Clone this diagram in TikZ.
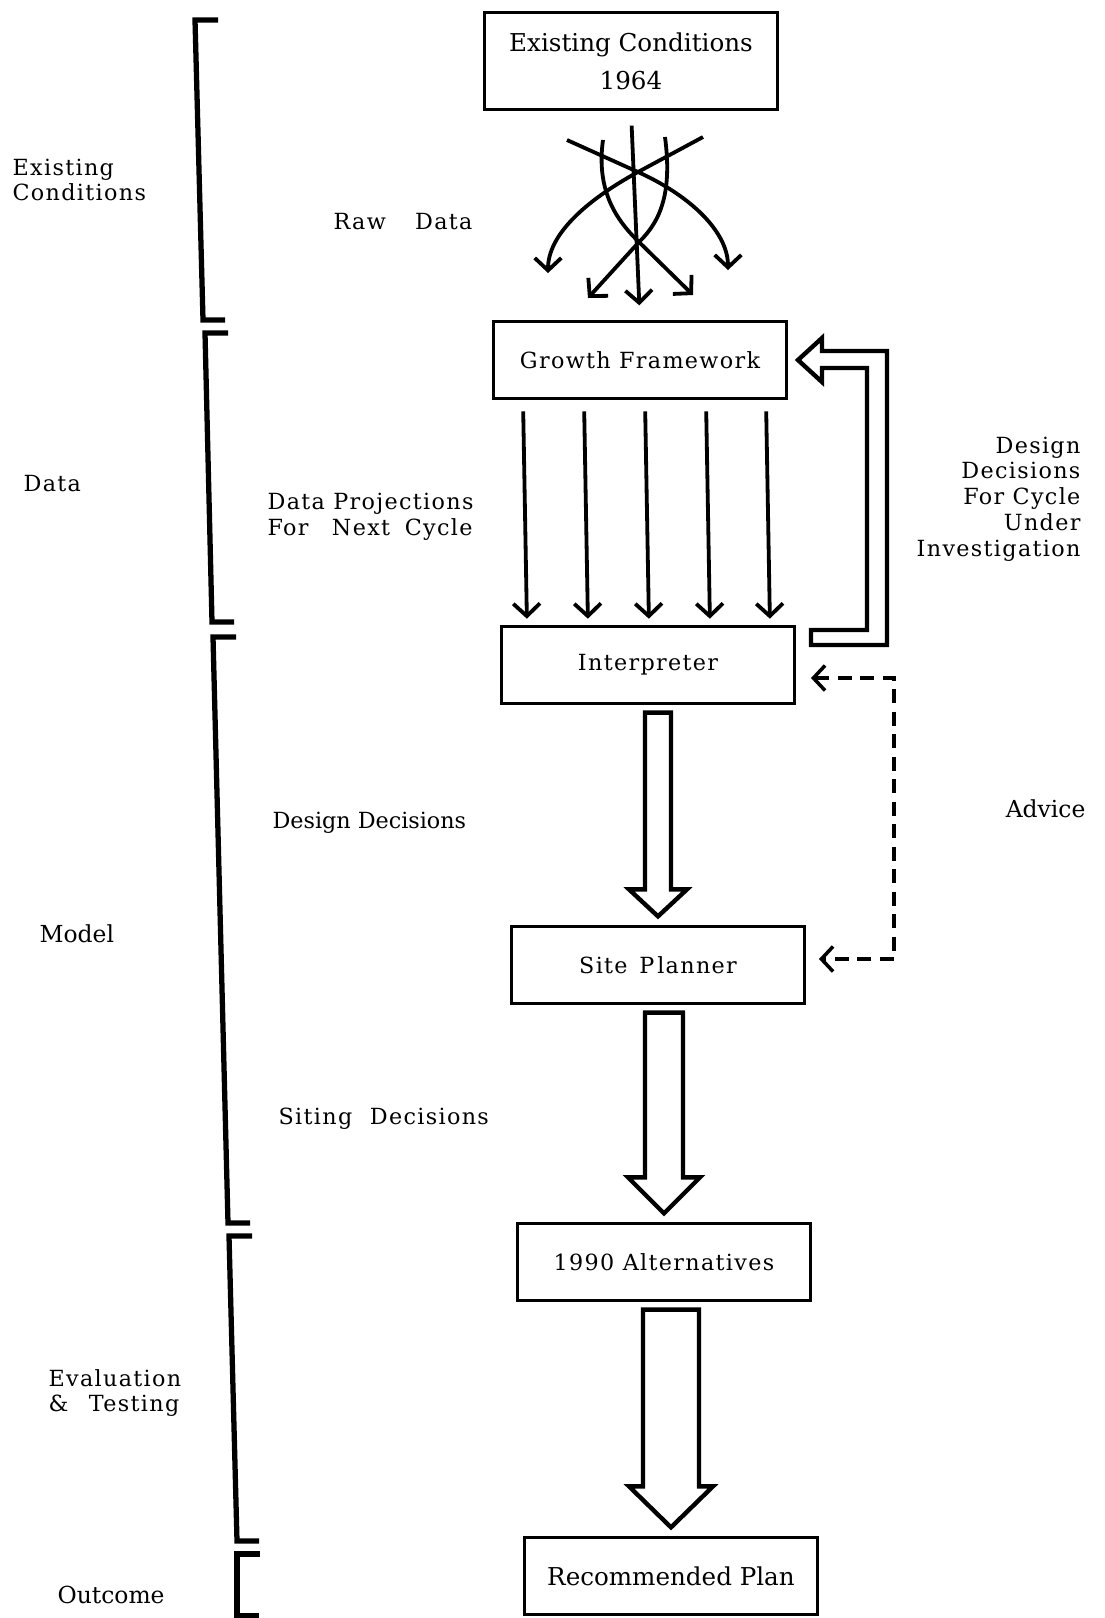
\documentclass[tikz,border=0pt]{standalone}
\usepackage{fontspec}
\setmainfont{DejaVu Serif}
\newfontfamily\typedface{DejaVu Serif}[LetterSpace=6]
\newcommand{\typedfont}{\typedface\fontsize{7.6}{8.8}\selectfont}
\newcommand{\plainfont}{\fontsize{8.4}{10}\selectfont}
\usepackage{tikz}
\usetikzlibrary{arrows.meta,calc}

\tikzset{
  blockbox/.style={draw, line width=0.9pt, minimum width=35.2mm, minimum height=9.2mm, font=\typedfont},
  sidelabel/.style={inner sep=0pt, font=\typedfont},
  plainlabel/.style={inner sep=0pt, font=\plainfont},
  bracketline/.style={line width=1.8pt},
  flowarrow/.style={line width=1.3pt, -{Straight Barb[length=1.5mm,width=3.2mm]}},
  fatline/.style={line width=1.5pt, line join=miter},
  advicearrow/.style={line width=1.2pt, dash pattern=on 1.7mm off 1mm,
    {Straight Barb[length=1.4mm,width=3mm]}-{Straight Barb[length=1.4mm,width=3mm]}}
}

% hollow arrow: from, to, shaft half width, head half width, head length
\newcommand{\fatdown}[5]{%
  \draw[fatline] ($(#1.south -| #2.north)+(-#3,8)$) -- ($(#2.north)+(-#3,-#5-9)$)
    -- ($(#2.north)+(-#4,-#5-9)$) -- ($(#2.north)+(0,-9)$)
    -- ($(#2.north)+(#4,-#5-9)$) -- ($(#2.north)+(#3,-#5-9)$)
    -- ($(#1.south -| #2.north)+(#3,8)$) -- cycle;}

\begin{document}
\begin{tikzpicture}[x=0.12mm,y=-0.12mm]
  \useasboundingbox (0,0) rectangle (1105,1618);

  % stages
  \node[blockbox, minimum height=11.6mm, align=center, font=\plainfont] (exist) at (631,61) {Existing Conditions\\[3pt]1964};
  \node[blockbox] (growth) at (640,360) {Growth Framework};
  \node[blockbox] (interp) at (648,665) {Interpreter};
  \node[blockbox] (site) at (658,965) {Site\hspace{4pt}P\hspace{1pt}lanner};
  \node[blockbox] (alt) at (664,1262) {1990 Alternatives};
  \node[blockbox, font=\plainfont] (plan) at (671,1576) {Recommended Plan};

  % brackets on the left
  \foreach \xa/\ya/\xb/\yb in {195/20/203/320, 205/333/212/622, 213/637/228/1223,
      229/1236/237/1541, 237/1554/237/1616}
    \draw[bracketline] (\xa+23,\ya) -- (\xa,\ya) -- (\xb,\yb) -- (\xb+22,\yb);

  \node[sidelabel, anchor=west, align=left] (lblexist) at (12,180) {Existing\\Conditions};
  \node[sidelabel, anchor=west] (lbldata) at (23,484) {Data};
  \node[plainlabel, font=\fontsize{8}{10}\selectfont, anchor=west] (lblmodel) at (39,934) {Model};
  \node[sidelabel, anchor=west, align=left] (lbleval) at (48,1393) {Evaluation\\\&\hspace{7pt}Testing};
  \node[plainlabel, font=\fontsize{8}{10}\selectfont, anchor=west] (lblout) at (57,1595) {Outcome};

  % flow labels
  \node[sidelabel, anchor=west] (lblraw) at (333,222) {Raw\hspace{10pt}Data};
  \node[sidelabel, anchor=west, align=left] (lblproj) at (267,517) {Data Projections\\For\hspace{8pt}Next\hspace{5pt}Cycle};
  \node[plainlabel, font=\fontsize{7.6}{9}\selectfont, anchor=west] (lbldesign) at (272,823) {Design Decisions};
  \node[sidelabel, anchor=west] (lblsiting) at (278,1119) {Siting\hspace{6pt}Decisions};
  \node[sidelabel, anchor=east, align=right] (lblcycle) at (1081,499) {Design\\Decisions\\For Cycle\\Under\\Investigation};
  \node[plainlabel, font=\fontsize{8}{10}\selectfont, anchor=east] (lbladvice) at (1086,809) {Advice};

  % raw data
  \coordinate (rawA) at (567,140);
  \coordinate (rawB) at (703,137);
  \coordinate (rawC) at (603,140);
  \coordinate (rawD) at (665,137);
  \coordinate (crossup) at (638,172);
  \coordinate (crosslow) at (639,242);
  \coordinate (endA) at (728,270);
  \coordinate (endB) at (548,273);
  \coordinate (endC) at (693,295);
  \coordinate (endD) at (588,298);
  \draw[flowarrow, shorten <=1.8mm, shorten >=1.8mm] (exist.south) -- (growth.north);
  \draw[flowarrow] (rawA) -- (crossup) .. controls (691,196) and (728,232) .. (endA);
  \draw[flowarrow] (rawB) -- (crossup) .. controls (585,201) and (548,235) .. (endB);
  \draw[flowarrow] (rawC) .. controls (596,190) and (616,220) .. (crosslow) -- (endC);
  \draw[flowarrow] (rawD) .. controls (672,190) and (662,220) .. (crosslow) -- (endD);

  % data projections
  \foreach \dx in {-117,-56,5,66,126}
    \draw[flowarrow, shorten <=1.4mm, shorten >=0.8mm] ([xshift=\dx*0.12mm]growth.south) -- ([xshift=\dx*0.12mm-4*0.12mm]interp.north);

  % design decisions back to the framework
  \coordinate (fbstart) at ($(interp.east)+(15,-28)$);
  \coordinate (fbtip) at ($(growth.east)+(10,0)$);
  \draw[fatline] ($(fbstart)+(0,-7)$) -- ($(fbstart)+(56,-7)$) |- ($(fbtip)+(24,8)$)
    -- ($(fbtip)+(24,22)$) -- (fbtip) -- ($(fbtip)+(24,-22)$) -- ($(fbtip)+(24,-9)$)
    -| ($(fbstart)+(76,8)$) -- ($(fbstart)+(0,8)$) -- cycle;

  % advice
  \draw[advicearrow] ($(interp.east)+(15,13)$) -- ++(83,0) |- ($(site.east)+(13,-6)$);

  % main flow
  \fatdown{interp}{site}{13}{29}{27}
  \fatdown{site}{alt}{19}{36}{36}
  \fatdown{alt}{plan}{28}{42}{41}
\end{tikzpicture}
\end{document}
